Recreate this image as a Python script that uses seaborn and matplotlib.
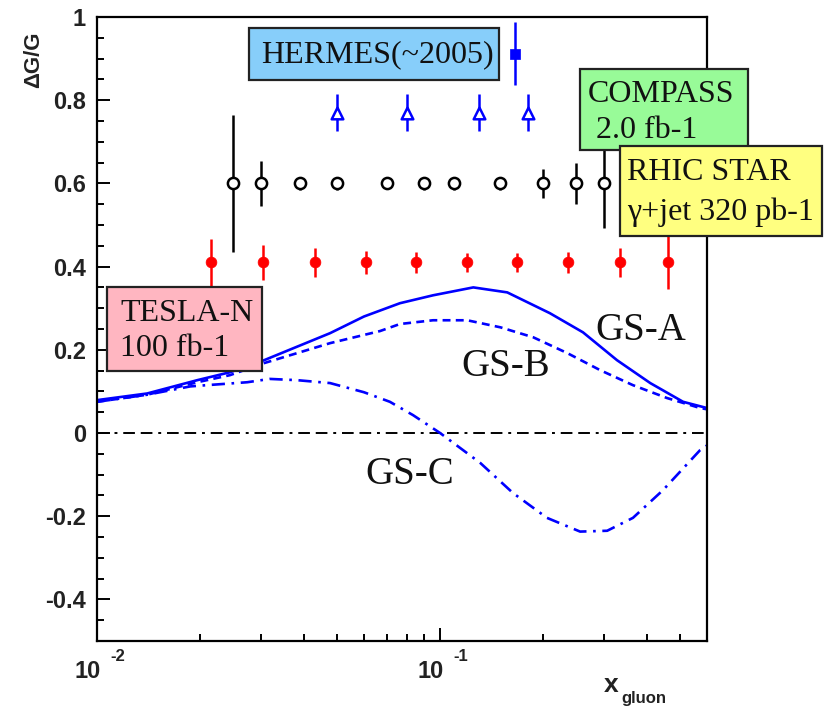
import numpy as np
import pandas as pd
import seaborn as sns
import matplotlib
matplotlib.use("Agg")
import matplotlib.pyplot as plt
from matplotlib.patches import Rectangle
from matplotlib.ticker import FixedLocator, MultipleLocator, NullFormatter

# ---- polarised gluon distributions (GS parametrisations) ----
gsa_x = [0.01, 0.014, 0.0196, 0.0244, 0.0307, 0.0478, 0.060, 0.0764, 0.0954,
         0.125, 0.157, 0.209, 0.261, 0.328, 0.41, 0.511, 0.6]
gsa_y = [0.079, 0.095, 0.127, 0.146, 0.175, 0.240, 0.280, 0.312, 0.331,
         0.350, 0.338, 0.288, 0.242, 0.175, 0.120, 0.075, 0.06]

gsb_x = [0.01, 0.014, 0.0196, 0.0244, 0.0307, 0.0478, 0.0668, 0.0764, 0.0954,
         0.12, 0.15, 0.187, 0.235, 0.293, 0.365, 0.459, 0.573, 0.6]
gsb_y = [0.075, 0.092, 0.122, 0.139, 0.168, 0.216, 0.245, 0.262, 0.271,
         0.271, 0.254, 0.230, 0.192, 0.151, 0.115, 0.084, 0.060, 0.057]

gsc_x = [0.01, 0.014, 0.0187, 0.0209, 0.0274, 0.0319, 0.0383, 0.0478, 0.060,
         0.0714, 0.0834, 0.1, 0.131, 0.163, 0.205, 0.256, 0.307, 0.365, 0.447,
         0.573, 0.6]
gsc_y = [0.075, 0.092, 0.112, 0.115, 0.122, 0.130, 0.127, 0.120, 0.098,
         0.075, 0.043, 0.0, -0.072, -0.144, -0.204, -0.237, -0.235, -0.204,
         -0.137, -0.041, -0.03]

# ---- projected measurements ----
tesla_x = [0.0215, 0.0305, 0.0432, 0.0608, 0.0851, 0.120, 0.168, 0.236, 0.335, 0.462]
tesla_y = [0.41] * 10
tesla_err = [0.056, 0.043, 0.035, 0.028, 0.026, 0.023, 0.023, 0.026, 0.035, 0.065]

star_x = [0.0249, 0.0301, 0.0391, 0.0501, 0.070, 0.0898, 0.110, 0.150, 0.200, 0.249, 0.301]
star_y = [0.60] * 11
star_err = [0.165, 0.055, 0.015, 0.015, 0.012, 0.015, 0.015, 0.015, 0.035, 0.05, 0.108]

compass_x = [0.0501, 0.0802, 0.130, 0.181]
compass_y = [0.77] * 4
compass_err = [0.045, 0.045, 0.045, 0.045]

hermes_x = [0.1655]
hermes_y = [0.912]
hermes_err = [0.075]

curve_labels = ["GS-A", "GS-B", "GS-C"]
ytick_vals = [-0.4, -0.2, 0, 0.2, 0.4, 0.6, 0.8, 1.0]
ytick_text = ["-0.4", "-0.2", "0", "0.2", "0.4", "0.6", "0.8", "1"]

sns.set_theme(style="ticks")
plt.rcParams["font.family"] = ["Liberation Sans", "DejaVu Sans"]

W, H = 827, 707
fig = plt.figure(figsize=(W / 100, H / 100), dpi=100)
fig.patch.set_facecolor("white")
ax = fig.add_axes([97 / W, 1 - 641 / H, 610 / W, 624 / H])
ax.set_facecolor("white")

blue = "#0000ff"
curves = pd.concat([
    pd.DataFrame({"x": gsa_x, "y": gsa_y, "curve": "GS-A"}),
    pd.DataFrame({"x": gsb_x, "y": gsb_y, "curve": "GS-B"}),
    pd.DataFrame({"x": gsc_x, "y": gsc_y, "curve": "GS-C"}),
])
styles = {"GS-A": "-", "GS-B": (0, (3, 2)), "GS-C": (0, (5, 2.5, 1, 2.5))}
for name in curve_labels:
    sub = curves[curves["curve"] == name]
    sns.lineplot(data=sub, x="x", y="y", ax=ax, color=blue, lw=1.9,
                 linestyle=styles[name], estimator=None, sort=False, legend=False)

# zero reference line
ax.axhline(0, color="black", lw=1.4, linestyle=(0, (6, 3, 1.5, 3, 6, 3)), zorder=1)

# error bars + markers
ax.errorbar(tesla_x, tesla_y, yerr=tesla_err, fmt="none", ecolor="red", elinewidth=1.8, zorder=3)
sns.scatterplot(x=tesla_x, y=tesla_y, ax=ax, color="red", marker="o", s=60,
                edgecolor="red", linewidth=0.5, zorder=4, legend=False)

ax.errorbar(star_x, star_y, yerr=star_err, fmt="none", ecolor="black", elinewidth=1.8, zorder=3)
sns.scatterplot(x=star_x, y=star_y, ax=ax, color="white", marker="o", s=65,
                edgecolor="black", linewidth=1.8, zorder=4, legend=False)

ax.errorbar(compass_x, compass_y, yerr=compass_err, fmt="none", ecolor=blue, elinewidth=1.8, zorder=3)
sns.scatterplot(x=compass_x, y=compass_y, ax=ax, color="white", marker="^", s=70,
                edgecolor=blue, linewidth=1.8, zorder=4, legend=False)

ax.errorbar(hermes_x, hermes_y, yerr=hermes_err, fmt="none", ecolor=blue, elinewidth=1.8, zorder=3)
sns.scatterplot(x=hermes_x, y=hermes_y, ax=ax, color=blue, marker="s", s=55,
                edgecolor=blue, linewidth=0.5, zorder=4, legend=False)

ax.set_xscale("log")
ax.set_xlim(0.01, 0.6)
ax.set_ylim(-0.5, 1.0)
ax.set_xlabel("")
ax.set_ylabel("")

for s in ax.spines.values():
    s.set_linewidth(1.6)
    s.set_color("black")

ax.xaxis.set_major_locator(FixedLocator([0.01, 0.1]))
ax.xaxis.set_minor_locator(FixedLocator([0.02, 0.03, 0.04, 0.05, 0.06, 0.07, 0.08, 0.09,
                                         0.2, 0.3, 0.4, 0.5]))
ax.xaxis.set_major_formatter(NullFormatter())
ax.xaxis.set_minor_formatter(NullFormatter())
ax.set_yticks(ytick_vals)
ax.set_yticklabels(ytick_text)
ax.yaxis.set_minor_locator(MultipleLocator(0.05))
ax.tick_params(which="both", direction="in", top=False, right=False, width=1.4, color="black")
ax.tick_params(which="major", length=9.5)
ax.tick_params(which="minor", length=5)
ax.tick_params(axis="y", which="major", pad=8, labelsize=17, labelcolor="#222222")
for lab in ax.get_yticklabels():
    lab.set_fontweight("bold")

# x decade labels
for xv, exp in [(0.01, "-2"), (0.1, "-1")]:
    ax.annotate("10", xy=(xv, 0), xycoords=("data", "axes fraction"),
                xytext=(-7, -22), textcoords="offset points", ha="center", va="center",
                fontsize=17, fontweight="bold", color="#222222", annotation_clip=False)
    ax.annotate(exp, xy=(xv, 0), xycoords=("data", "axes fraction"),
                xytext=(15, -11), textcoords="offset points", ha="center", va="center",
                fontsize=12, fontweight="bold", color="#222222", annotation_clip=False)

# axis titles
fig.text(34 / W, 1 - 60 / H, "\u0394G/G", rotation=90, ha="center", va="center",
         fontsize=16, fontweight="bold", color="#222222")
fig.text(611 / W, 1 - 685 / H, "x", ha="center", va="center",
         fontsize=19, fontweight="bold", color="#222222")
fig.text(621 / W, 1 - 699 / H, "gluon", ha="left", va="center",
         fontsize=12, fontweight="bold", color="#222222")

# curve names
serif = ["Liberation Serif", "DejaVu Serif"]
for name, (px, py) in zip(curve_labels, [(641, 330), (506, 366), (410, 474)]):
    fig.text(px / W, 1 - py / H, name, ha="center", va="center",
             fontsize=28, family=serif, color="#111111")

# experiment boxes
def label_box(x0, y0, x1, y1, color, lines):
    rect = Rectangle((x0 / W, 1 - y1 / H), (x1 - x0) / W, (y1 - y0) / H,
                     transform=fig.transFigure, facecolor=color, edgecolor="#222222",
                     lw=1.6, zorder=10)
    fig.patches.append(rect)
    for (tx, ty, txt) in lines:
        fig.text(tx / W, 1 - ty / H, txt, ha="left", va="center", fontsize=23,
                 family=serif, color="#111111", zorder=11)

label_box(249, 28, 499, 80, "#87cefa", [(261, 55, "HERMES(~2005)")])
label_box(580, 69, 748, 150, "#98fb98", [(588, 94, "COMPASS"), (588, 130, " 2.0 fb-1")])
label_box(620, 146, 822, 236, "#ffff80", [(627, 173, "RHIC STAR"), (627, 212, "\u03b3+jet 320 pb-1")])
label_box(107, 287, 262, 371, "#ffb6c1", [(120, 313, "TESLA-N"), (120, 348, "100 fb-1")])

fig.savefig("out.png", dpi=100, facecolor="white")
